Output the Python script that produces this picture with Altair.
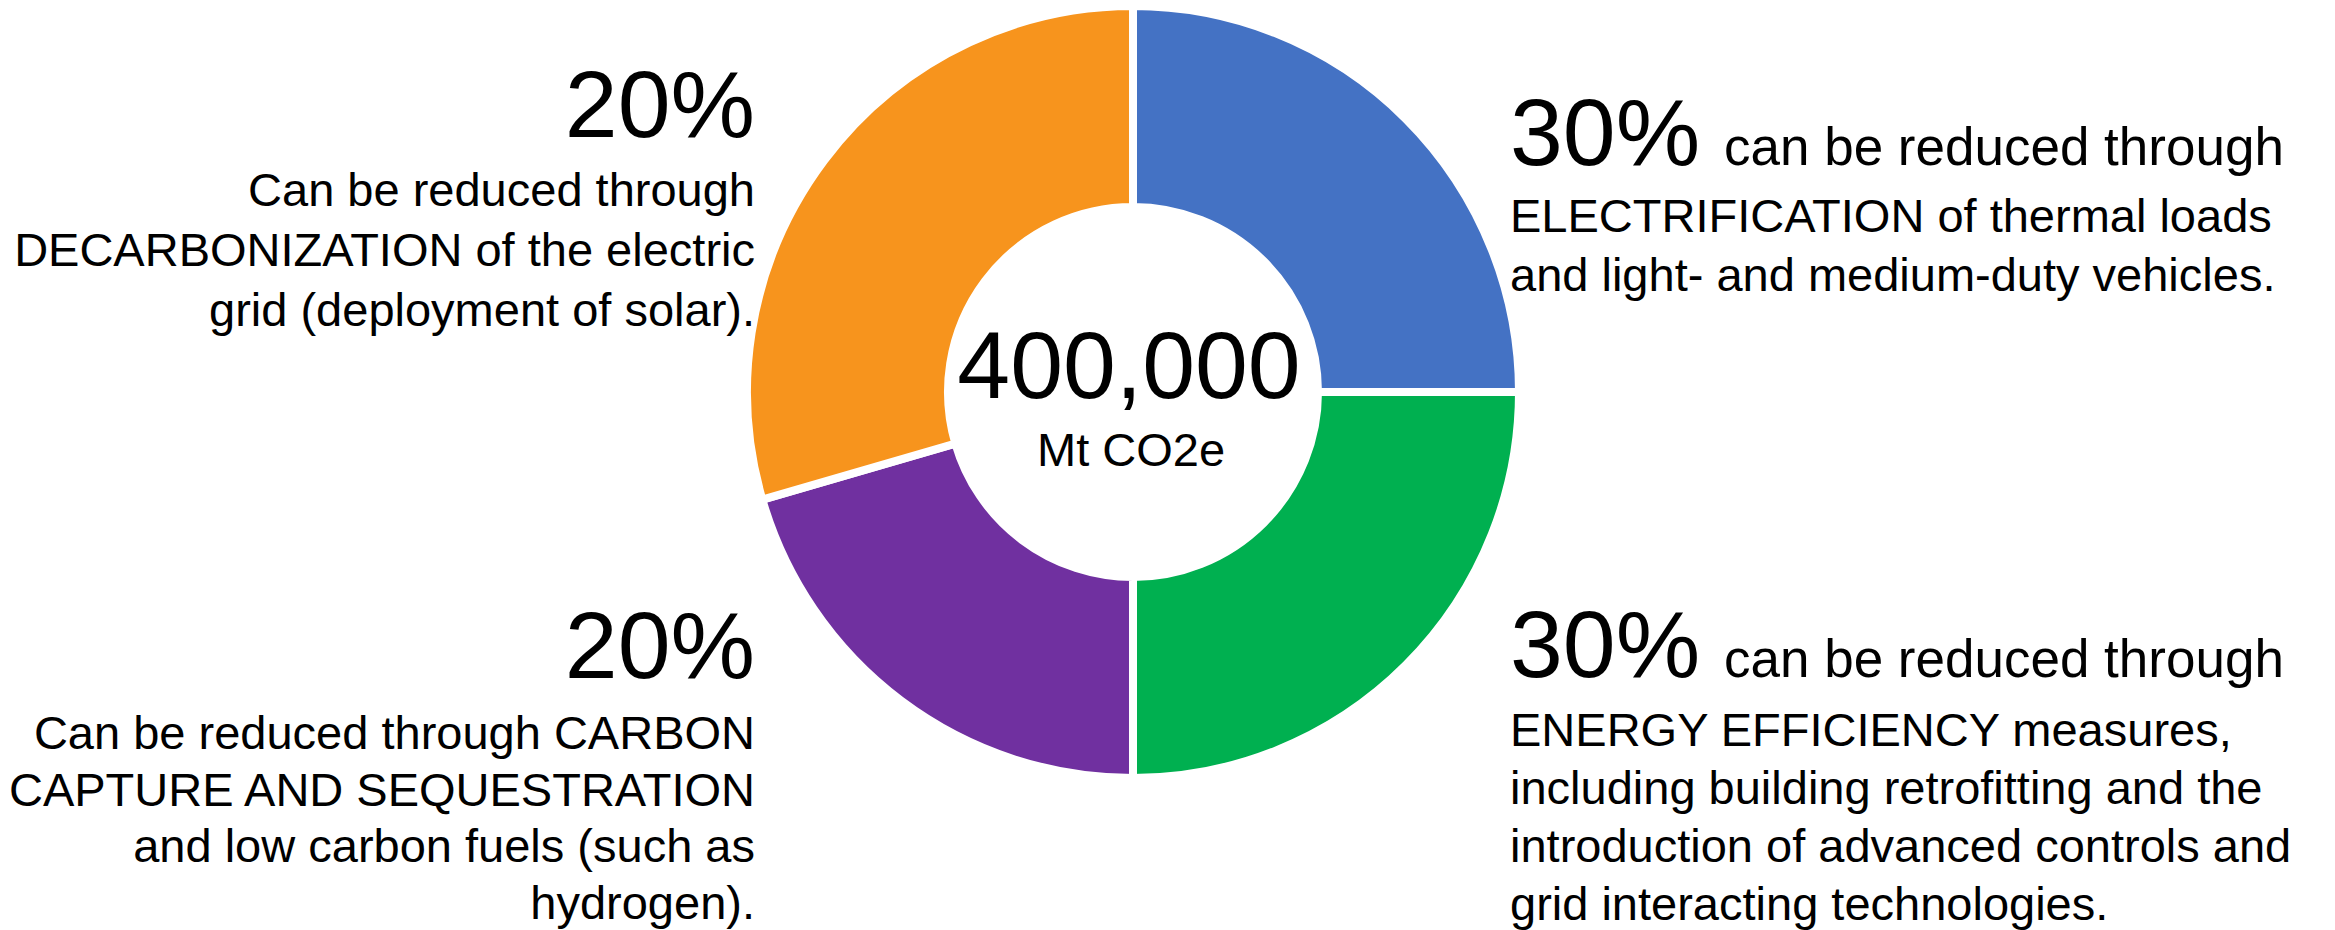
import altair as alt
import pandas as pd

# ---- data ----
segments = ["Electrification", "Energy efficiency", "Carbon capture & low carbon fuels", "Grid decarbonization"]
shares = [25.0, 25.0, 20.5, 29.5]          # slice sizes as drawn (clockwise from 12 o'clock)
center_value = "400,000"
center_unit = "Mt CO2e"

tl_pct = "20%"
tl_lines = ["Can be reduced through", "DECARBONIZATION of the electric", "grid (deployment of solar)."]
bl_pct = "20%"
bl_lines = ["Can be reduced through CARBON", "CAPTURE AND SEQUESTRATION", "and low carbon fuels (such as", "hydrogen)."]
tr_pct = "30%"
tr_lead = "can be reduced through"
tr_lines = ["ELECTRIFICATION of thermal loads", "and light- and medium-duty vehicles."]
br_pct = "30%"
br_lead = "can be reduced through"
br_lines = ["ENERGY EFFICIENCY measures,", "including building retrofitting and the",
            "introduction of advanced controls and", "grid interacting technologies."]

FONT = "Liberation Sans, Arial, Helvetica, sans-serif"

donut_df = pd.DataFrame({"segment": segments, "share": shares, "order": list(range(len(segments)))})

donut = alt.Chart(donut_df).mark_arc(
    outerRadius=386, innerRadius=185, stroke="white", strokeWidth=8
).encode(
    theta=alt.Theta("share:Q", stack=True),
    order=alt.Order("order:Q"),
    color=alt.Color("segment:N",
                    scale=alt.Scale(domain=segments,
                                    range=["#4472C4", "#00B050", "#7030A0", "#F7941D"]),
                    legend=None),
    x=alt.value(1125),
    y=alt.value(384),
)


def txt(s, x, y, size, align="left", line_height=None):
    kw = dict(font=FONT, fontSize=size, align=align, baseline="alphabetic", color="black")
    if line_height is not None:
        kw.update(lineBreak="\n", lineHeight=line_height)
    return alt.Chart(pd.DataFrame({"t": [s]})).mark_text(**kw).encode(
        text="t:N", x=alt.value(x), y=alt.value(y))


layers = [
    donut,
    txt(center_value, 1121, 390, 95, "center"),
    txt(center_unit, 1123, 458, 47, "center"),
    # top-left
    txt(tl_pct, 747, 129, 95, "right"),
    txt("\n".join(tl_lines), 747, 198, 47, "right", 60),
    # bottom-left
    txt(bl_pct, 747, 670, 95, "right"),
    txt("\n".join(bl_lines), 747, 741, 47, "right", 56.7),
    # top-right
    txt(tr_pct, 1502, 157, 95, "left"),
    txt(tr_lead, 1716, 157, 53, "left"),
    txt("\n".join(tr_lines), 1502, 224, 47, "left", 59),
    # bottom-right
    txt(br_pct, 1502, 669, 95, "left"),
    txt(br_lead, 1716, 669, 53, "left"),
    txt("\n".join(br_lines), 1502, 738, 47, "left", 58),
]

chart = alt.layer(*layers).properties(
    width=2319, height=922, padding=0, autosize="none", background="white"
).configure_view(stroke=None)

chart.save("out.html", embed_options={"renderer": "svg", "actions": False})
